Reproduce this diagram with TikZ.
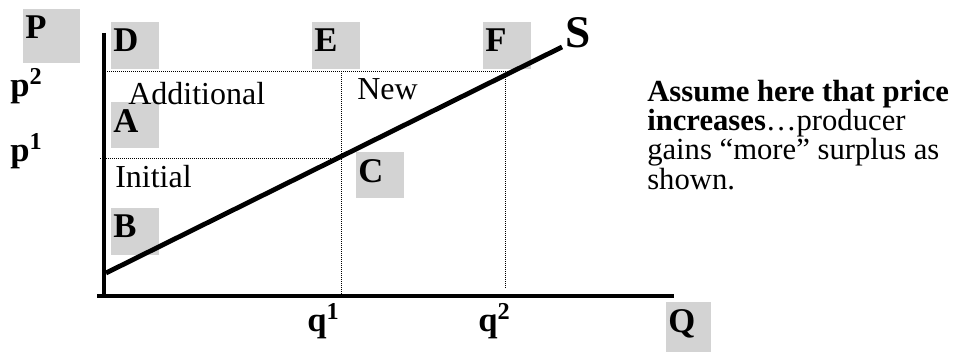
\documentclass[tikz,border=0pt]{standalone}
\usepackage{fontspec}
\setmainfont{Liberation Serif}
\definecolor{boxgray}{RGB}{211,211,211}

\begin{document}
\begin{tikzpicture}[x=0.75pt, y=-0.75pt,
        lbl/.style={fill=boxgray, anchor=north west, inner xsep=1.5pt, inner ysep=0pt, align=left,
            text width=33pt, text height=21.75pt, text depth=13.5pt, font=\fontsize{26}{26}\selectfont\bfseries},
        word/.style={anchor=base west, inner sep=0pt, font=\fontsize{24}{24}\selectfont},
        tick/.style={anchor=base west, inner sep=0pt, font=\fontsize{26}{26}\selectfont\bfseries},
        guide/.style={line width=0.6pt, dash pattern=on 0.75pt off 0.75pt}]
        \useasboundingbox (0,0) rectangle (965,352);
        % grey letter boxes
        \node[lbl, text width=39.75pt, text depth=18.75pt] (P) at (23,9) {P};
        \node[lbl] (D) at (111,22) {D};
        \node[lbl] (E) at (312,22) {E};
        \node[lbl] (F) at (483,22) {F};
        \node[lbl, text height=22.5pt, text depth=12pt] (A) at (111,102) {A};
        \node[lbl, text height=22.5pt, text depth=12pt] (C) at (356,152) {C};
        \node[lbl] (B) at (111,208) {B};
        \node[lbl, text width=30.75pt, text height=22.5pt, text depth=15pt] (Q) at (666,302) {Q};
        % dotted guides
        \coordinate (p2a) at (107,71);  \coordinate (p2b) at (509,71);
        \coordinate (p1a) at (100,158); \coordinate (p1b) at (341,158);
        \coordinate (q1t) at (341,71);  \coordinate (q1b) at (341,294);
        \coordinate (q2t) at (505,71);  \coordinate (q2b) at (505,289);
        \draw [guide] (p2a)--(p2b);
        \draw [guide] (p1a)--(p1b);
        \draw [guide] (q1t)--(q1b);
        \draw [guide] (q2t)--(q2b);
        % axes and supply
        \coordinate (ytop) at (104,33); \coordinate (O) at (104,296);
        \coordinate (xbeg) at (97,296); \coordinate (xend) at (674,296);
        \draw [line width=3.5pt] (ytop)--(O);
        \draw [line width=3.7pt] (xbeg)--(xend);
        \coordinate (S0) at (106,273); \coordinate (S1) at (562,47);
        \draw [line width=3.6pt] (S0)--(S1);
        \node [tick, font=\fontsize{34}{34}\selectfont\bfseries] (S) at (565,48) {S};
        % axis values
        \node [tick] (p2) at (10,97) {p\textsuperscript{2}};
        \node [tick] (p1) at (10,162) {p\textsuperscript{1}};
        \node [tick] (q1) at (307,332) {q\textsuperscript{1}};
        \node [tick] (q2) at (478,332) {q\textsuperscript{2}};
        % areas
        \node [word] (add) at (128,105) {Additional};
        \node [word] (new) at (357,100) {New};
        \node [word] (ini) at (115,188) {Initial};
        \node [anchor=north west, inner sep=0pt, align=left, font=\fontsize{23}{20.5}\selectfont] (note) at (647,80)
            {\textbf{Assume here that price}\\\textbf{increases}…producer\\gains “more” surplus as\\shown.};
\end{tikzpicture}
\end{document}
